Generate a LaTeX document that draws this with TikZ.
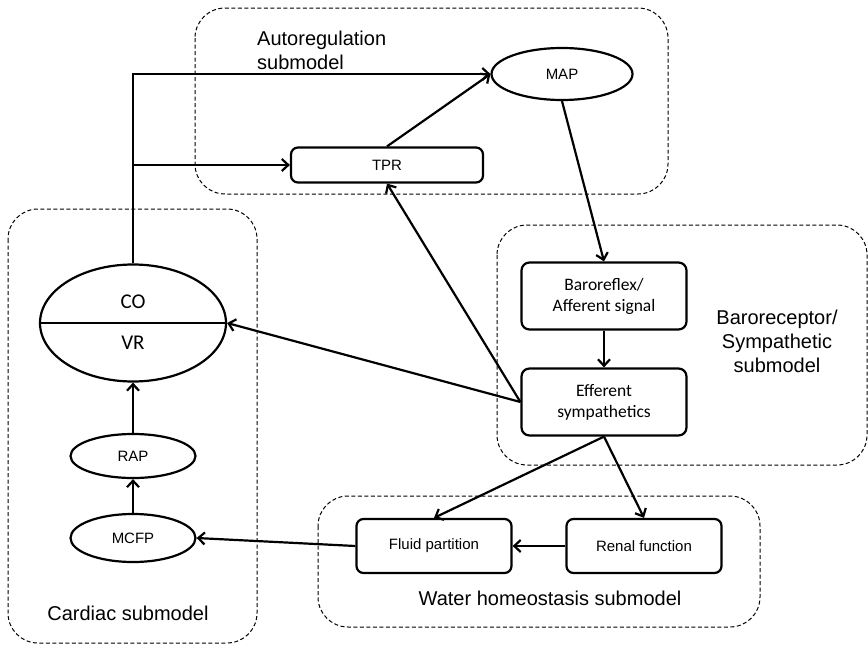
\documentclass[tikz,border=0pt]{standalone}
\usepackage{fontspec}
\setmainfont{Liberation Sans}
\newfontfamily\calfont{Carlito}
\usetikzlibrary{arrows.meta,shapes.geometric,positioning}

\begin{document}
\begin{tikzpicture}[x=1pt,y=-1pt,>={Straight Barb[length=6.5pt,width=12pt]},
  link/.style={->,line width=2.2pt},
  group/.style={draw,dashed,line width=1pt,dash pattern=on 4pt off 2.5pt,rounded corners=30pt},
  box/.style={draw,line width=2.2pt,rounded corners=8pt,align=center,inner sep=0pt,
    minimum width=165pt,minimum height=67pt,font=\calfont\fontsize{17.5}{21}\selectfont},
  flat/.style={draw,line width=2.2pt,rounded corners=7pt,inner sep=0pt,
    minimum width=155pt,font=\fontsize{15}{18}\selectfont},
  oval/.style={draw,ellipse,line width=2.2pt,inner sep=0pt,font=\fontsize{15}{18}\selectfont},
  title/.style={font=\fontsize{20}{24}\selectfont,inner sep=0pt}]
  \useasboundingbox (0,0) rectangle (868,645);

  % submodel regions
  \draw[group] (8,209) rectangle (257,643);
  \draw[group] (195,8) rectangle (668,194);
  \draw[group] (497,225) rectangle (867,465);
  \draw[group] (318,496) rectangle (760,627);
  \node[title,align=left,anchor=west] (auto) at (257,50) {Autoregulation\\submodel};
  \node[title,align=center] (baro-lab) at (777,341) {Baroreceptor/\\Sympathetic\\submodel};
  \node[title] (water) at (550,598) {Water homeostasis submodel};
  \node[title] (cardiac) at (128,613) {Cardiac submodel};

  % cardiac
  \node[oval,minimum width=186pt,minimum height=117pt] (co) at (133,323) {};
  \draw[line width=2.2pt] (co.west) -- (co.east);
  \node[font=\calfont\fontsize{21}{24}\selectfont,inner sep=0pt] (co-lab) at (133,302) {CO};
  \node[font=\calfont\fontsize{21}{24}\selectfont,inner sep=0pt] (vr-lab) at (133,343) {VR};
  \node[oval,minimum width=125pt,minimum height=44pt] (rap) at (133,456) {RAP};
  \node[oval,minimum width=125pt,minimum height=48pt] (mcfp) at (133,538) {MCFP};

  % autoregulation
  \node[flat,minimum width=192pt,minimum height=35pt] (tpr) at (387,165) {TPR};
  \node[oval,minimum width=141pt,minimum height=52pt] (map) at (562,74) {MAP};

  % baroreceptor
  \node[box] (baro) at (604,296) {Baroreflex/\\Afferent signal};
  \node[box] (eff) at (604,402) {Efferent\\sympathetics};

  % water homeostasis
  \node[flat,minimum height=54pt] (fluid) at (434,546) {Fluid partition};
  \node[flat,minimum height=54pt] (renal) at (644,546) {Renal function};

  % connectors
  \coordinate (split) at (co.north |- tpr.west);
  \draw[link] (co.north) |- (map.west);
  \draw[link] (split) -- (tpr.west);
  \draw[link] (tpr.north) -- (map.west);
  \draw[link] (map.south) -- (baro.north);
  \draw[link] (baro.south) -- (eff.north);
  \draw[link] (eff.west) -- (co.east);
  \draw[link] (eff.west) -- (tpr.south);
  \draw[link] (eff.south) -- (fluid.north);
  \draw[link] (eff.south) -- (renal.north);
  \draw[link] (renal.west) -- (fluid.east);
  \draw[link] (fluid.west) -- (mcfp.east);
  \draw[link] (mcfp.north) -- (rap.south);
  \draw[link] (rap.north) -- (co.south);
\end{tikzpicture}
\end{document}
